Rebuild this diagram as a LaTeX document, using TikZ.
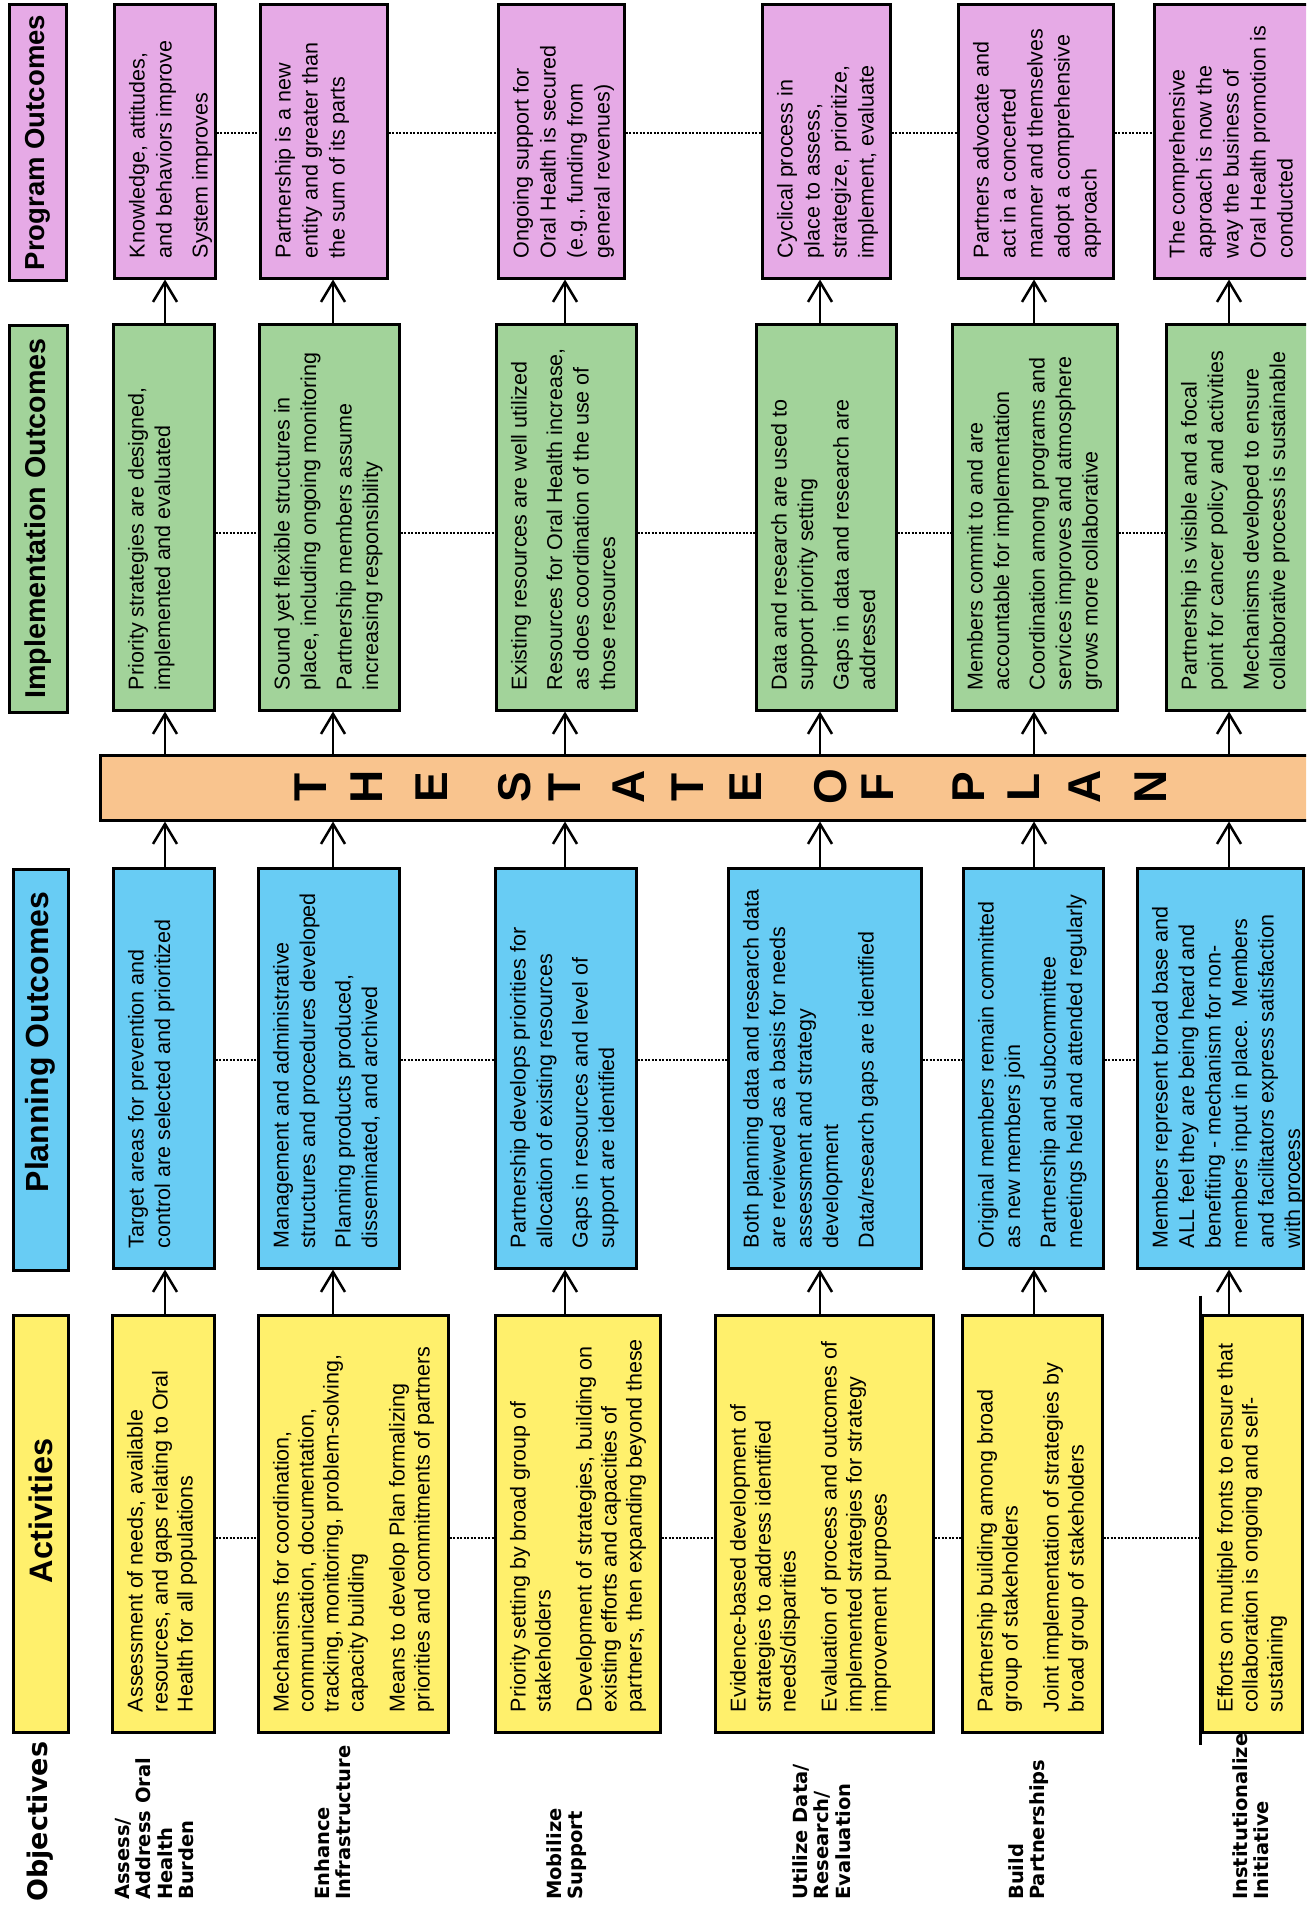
\documentclass[tikz,border=0pt]{standalone}
\usepackage{fontspec}
\setmainfont{Liberation Sans}
\newfontfamily\objfont{DejaVu Sans}
\usetikzlibrary{arrows.meta,calc}

\definecolor{progpink}{RGB}{230,170,230}
\definecolor{implgreen}{RGB}{162,211,154}
\definecolor{planblue}{RGB}{104,204,244}
\definecolor{actyellow}{RGB}{255,240,108}
\definecolor{planorange}{RGB}{249,196,142}

% text inside a box: width, height, layer set-up, text
\newcommand{\cellpar}[4]{\parbox[c][#2pt][t]{#1pt}{#3\raggedright\leftskip=12pt\relax #4}}
\newcommand{\progtext}{\fontsize{21.5pt}{27pt}\selectfont\parskip=9pt\relax}
\newcommand{\impltext}{\fontsize{21.5pt}{26.5pt}\selectfont\parskip=9pt\relax}
\newcommand{\plantext}{\fontsize{21.5pt}{26.5pt}\selectfont\parskip=9pt\relax}
\newcommand{\acttext}{\fontsize{21.5pt}{25pt}\selectfont\parskip=16pt\relax}
\newcommand{\headsize}[1]{\bfseries\fontsize{#1pt}{#1pt}\selectfont}

\begin{document}
\begin{tikzpicture}[x=1pt, y=-1pt,
  cell/.style={draw, line width=3pt, rotate=90, inner xsep=8pt, inner ysep=15pt},
  head/.style={draw, line width=3pt, rotate=90, inner sep=0pt},
  flow/.style={line width=2.5pt, -{Straight Barb[length=20pt,width=24pt]}},
  dotline/.style={line width=2pt, dash pattern=on 2pt off 1.5pt},
  objlabel/.style={rotate=90, anchor=north west, inner sep=0pt, align=left,
    font=\objfont\bfseries\fontsize{19.5pt}{21.5pt}\selectfont},
  barletter/.style={rotate=90, inner sep=0pt, font=\headsize{46}}]
\useasboundingbox (0,0) rectangle (1306,1910);
\fill[white] (0,0) rectangle (1306,1910);
\clip (0,0) rectangle (1306,1910);

% Draw headers
\node[head, fill=progpink, minimum width=275pt, minimum height=57pt, font=\headsize{27.5}] (pohead) at (37.5,142.5) {Program Outcomes};
\node[head, fill=implgreen, minimum width=387pt, minimum height=58pt, font=\headsize{28.7}] (imhead) at (38,518.5) {Implementation Outcomes};
\node[head, fill=planblue, minimum width=401pt, minimum height=55pt, font=\headsize{32}] (plhead) at (40.5,1069.5) {\hspace*{55pt}Planning Outcomes};
\node[head, fill=actyellow, minimum width=417pt, minimum height=55pt, font=\headsize{32.5}] (achead) at (40.5,1523.5) {\hspace*{25pt}Activities};

% Program outcomes
\node[cell, fill=progpink] (po1) at (164.5,141.5) {\cellpar{257}{71}{\progtext}{Knowledge, attitudes,\\ and behaviors improve\par System improves}};
\node[cell, fill=progpink] (po2) at (323.5,141.5) {\cellpar{257}{97}{\progtext}{Partnership is a new\\ entity and greater than\\ the sum of its parts}};
\node[cell, fill=progpink] (po3) at (561,141.5) {\cellpar{257}{96}{\progtext}{Ongoing support for\\ Oral Health is secured\\ (e.g., funding from\\ general revenues)}};
\node[cell, fill=progpink] (po4) at (826,141.5) {\cellpar{257}{98}{\progtext}{Cyclical process in\\ place to assess,\\ strategize, prioritize,\\ implement, evaluate}};
\node[cell, fill=progpink] (po5) at (1035.5,141.5) {\cellpar{257}{125}{\progtext}{Partners advocate and\\ act in a concerted\\ manner and themselves\\ adopt a comprehensive\\ approach}};
\node[cell, fill=progpink] (po6) at (1240,141.5) {\cellpar{257}{142}{\progtext}{The comprehensive\\ approach is now the\\ way the business of\\ Oral Health promotion is\\ conducted}};

% Implementation outcomes
\node[cell, fill=implgreen] (im1) at (163.5,517) {\cellpar{370}{71}{\impltext}{Priority strategies are designed,\\ implemented and evaluated}};
\node[cell, fill=implgreen] (im2) at (329,517) {\cellpar{370}{110}{\impltext}{Sound yet flexible structures in\\ place, including ongoing monitoring\par Partnership members assume\\ increasing responsibility}};
\node[cell, fill=implgreen] (im3) at (566,517) {\cellpar{370}{110}{\impltext}{Existing resources are well utilized\par Resources for Oral Health increase,\\ as does coordination of the use of\\ those resources}};
\node[cell, fill=implgreen] (im4) at (826,517) {\cellpar{370}{110}{\impltext}{Data and research are used to\\ support priority setting\par Gaps in data and research are\\ addressed}};
\node[cell, fill=implgreen] (im5) at (1034.5,517) {\cellpar{370}{135}{\impltext}{Members commit to and are\\ accountable for implementation\par Coordination among programs and\\ services improves and atmosphere\\ grows more collaborative}};
\node[cell, fill=implgreen] (im6) at (1246,517) {\cellpar{370}{130}{\impltext}{Partnership is visible and a focal\\ point for cancer policy and activities\par Mechanisms developed to ensure\\ collaborative process is sustainable}};

% The state plan
\node[draw, line width=3pt, fill=planorange, minimum width=1240pt, minimum height=65pt, inner sep=0pt] (plan) at (720,787.5) {};
\foreach \ltr/\xpos in {T/311,H/367,E/432,S/515,T/565,A/629,T/688,E/746,O/831,F/878,P/969,L/1024,A/1085,N/1151}
    \node[barletter] (ltr\xpos) at (\xpos,787) {\ltr};

% Planning outcomes
\node[cell, fill=planblue] (pl1) at (163.5,1068) {\cellpar{384}{71}{\plantext}{Target areas for prevention and\\ control are selected and prioritized}};
\node[cell, fill=planblue] (pl2) at (328.5,1068) {\cellpar{384}{111}{\plantext}{Management and administrative\\ structures and procedures developed\par Planning products produced,\\ disseminated, and archived}};
\node[cell, fill=planblue] (pl3) at (565.5,1068) {\cellpar{384}{111}{\plantext}{Partnership develops priorities for\\ allocation of existing resources\par Gaps in resources and level of\\ support are identified}};
\node[cell, fill=planblue] (pl4) at (824.5,1068) {\cellpar{384}{163}{\plantext}{Both planning data and research data\\ are reviewed as a basis for needs\\ assessment and strategy\\ development\par Data/research gaps are identified}};
\node[cell, fill=planblue] (pl5) at (1033,1068) {\cellpar{384}{110}{\plantext}{Original members remain committed\\ as new members join\par Partnership and subcommittee\\ meetings held and attended regularly}};
\node[cell, fill=planblue] (pl6) at (1220,1068) {\cellpar{384}{136}{\plantext}{Members represent broad base and\\ ALL feel they are being heard and\\ benefiting - mechanism for non-\\ members input in place.\ \ Members\\ and facilitators express satisfaction\\ with process}};

% Activities
\node[cell, fill=actyellow] (ac1) at (163,1523.5) {\cellpar{401}{72}{\acttext}{Assessment of needs, available\\ resources, and gaps relating to Oral\\ Health for all populations}};
\node[cell, fill=actyellow] (ac2) at (353,1523.5) {\cellpar{401}{160}{\acttext}{Mechanisms for coordination,\\ communication, documentation,\\ tracking, monitoring, problem-solving,\\ capacity building\par Means to develop Plan formalizing\\ priorities and commitments of partners}};
\node[cell, fill=actyellow] (ac3) at (577.5,1523.5) {\cellpar{401}{135}{\acttext}{Priority setting by broad group of\\ stakeholders\par Development of strategies, building on\\ existing efforts and capacities of\\ partners, then expanding beyond these}};
\node[cell, fill=actyellow] (ac4) at (824,1523.5) {\cellpar{401}{188}{\acttext}{Evidence-based development of\\ strategies to address identified\\ needs/disparities\par Evaluation of process and outcomes of\\ implemented strategies for strategy\\ improvement purposes}};
\node[cell, fill=actyellow] (ac5) at (1032,1523.5) {\cellpar{401}{110}{\acttext}{Partnership building among broad\\ group of stakeholders\par Joint implementation of strategies by\\ broad group of stakeholders}};
\node[cell, fill=actyellow] (ac6) at (1252,1523.5) {\cellpar{401}{70}{\acttext}{Efforts on multiple fronts to ensure that\\ collaboration is ongoing and self-\\ sustaining}};
\draw[line width=3pt] ($(ac6.north east)!-18pt!(ac6.north west)$) -- ($(ac6.north west)!-11pt!(ac6.north east)$);

% Objectives
\node[rotate=90, anchor=west, inner sep=0pt, font=\objfont\bfseries\fontsize{27pt}{30pt}\selectfont] (objhead) at (40,1902) {Objectives};
\node[objlabel] (ob1) at (115,1900) {Assess/\\Address Oral\\Health\\Burden};
\node[objlabel] (ob2) at (314,1900) {Enhance\\Infrastructure};
\node[objlabel] (ob3) at (546,1900) {Mobilize\\Support};
\node[objlabel] (ob4) at (792,1900) {Utilize Data/\\Research/\\Evaluation};
\node[objlabel] (ob5) at (1008,1900) {Build\\Partnerships};
\node[objlabel] (ob6) at (1232,1900) {Institutionalize\\Initiative};

% Draw arrows
\foreach \i/\xc in {1/165,2/333,3/565,4/820,5/1034,6/1229}
    \coordinate (col\i) at (\xc,0);
\foreach \i in {1,...,6}{
    \draw[flow] (ac\i.east -| col\i) -- (pl\i.west -| col\i);
    \draw[flow] (pl\i.east -| col\i) -- (plan.south -| col\i);
    \draw[flow] (plan.north -| col\i) -- (im\i.west -| col\i);
    \draw[flow] (im\i.east -| col\i) -- (po\i.west -| col\i);
}

% Draw dotted links
\coordinate (dotpo) at (0,133);
\coordinate (dotim) at (0,533);
\coordinate (dotpl) at (0,1060);
\coordinate (dotac) at (0,1538);
\foreach \i/\j in {1/2,2/3,3/4,4/5,5/6}{
    \draw[dotline] (po\i.south |- dotpo) -- (po\j.north |- dotpo);
    \draw[dotline] (im\i.south |- dotim) -- (im\j.north |- dotim);
    \draw[dotline] (pl\i.south |- dotpl) -- (pl\j.north |- dotpl);
    \draw[dotline] (ac\i.south |- dotac) -- (ac\j.north |- dotac);
}
\end{tikzpicture}
\end{document}
